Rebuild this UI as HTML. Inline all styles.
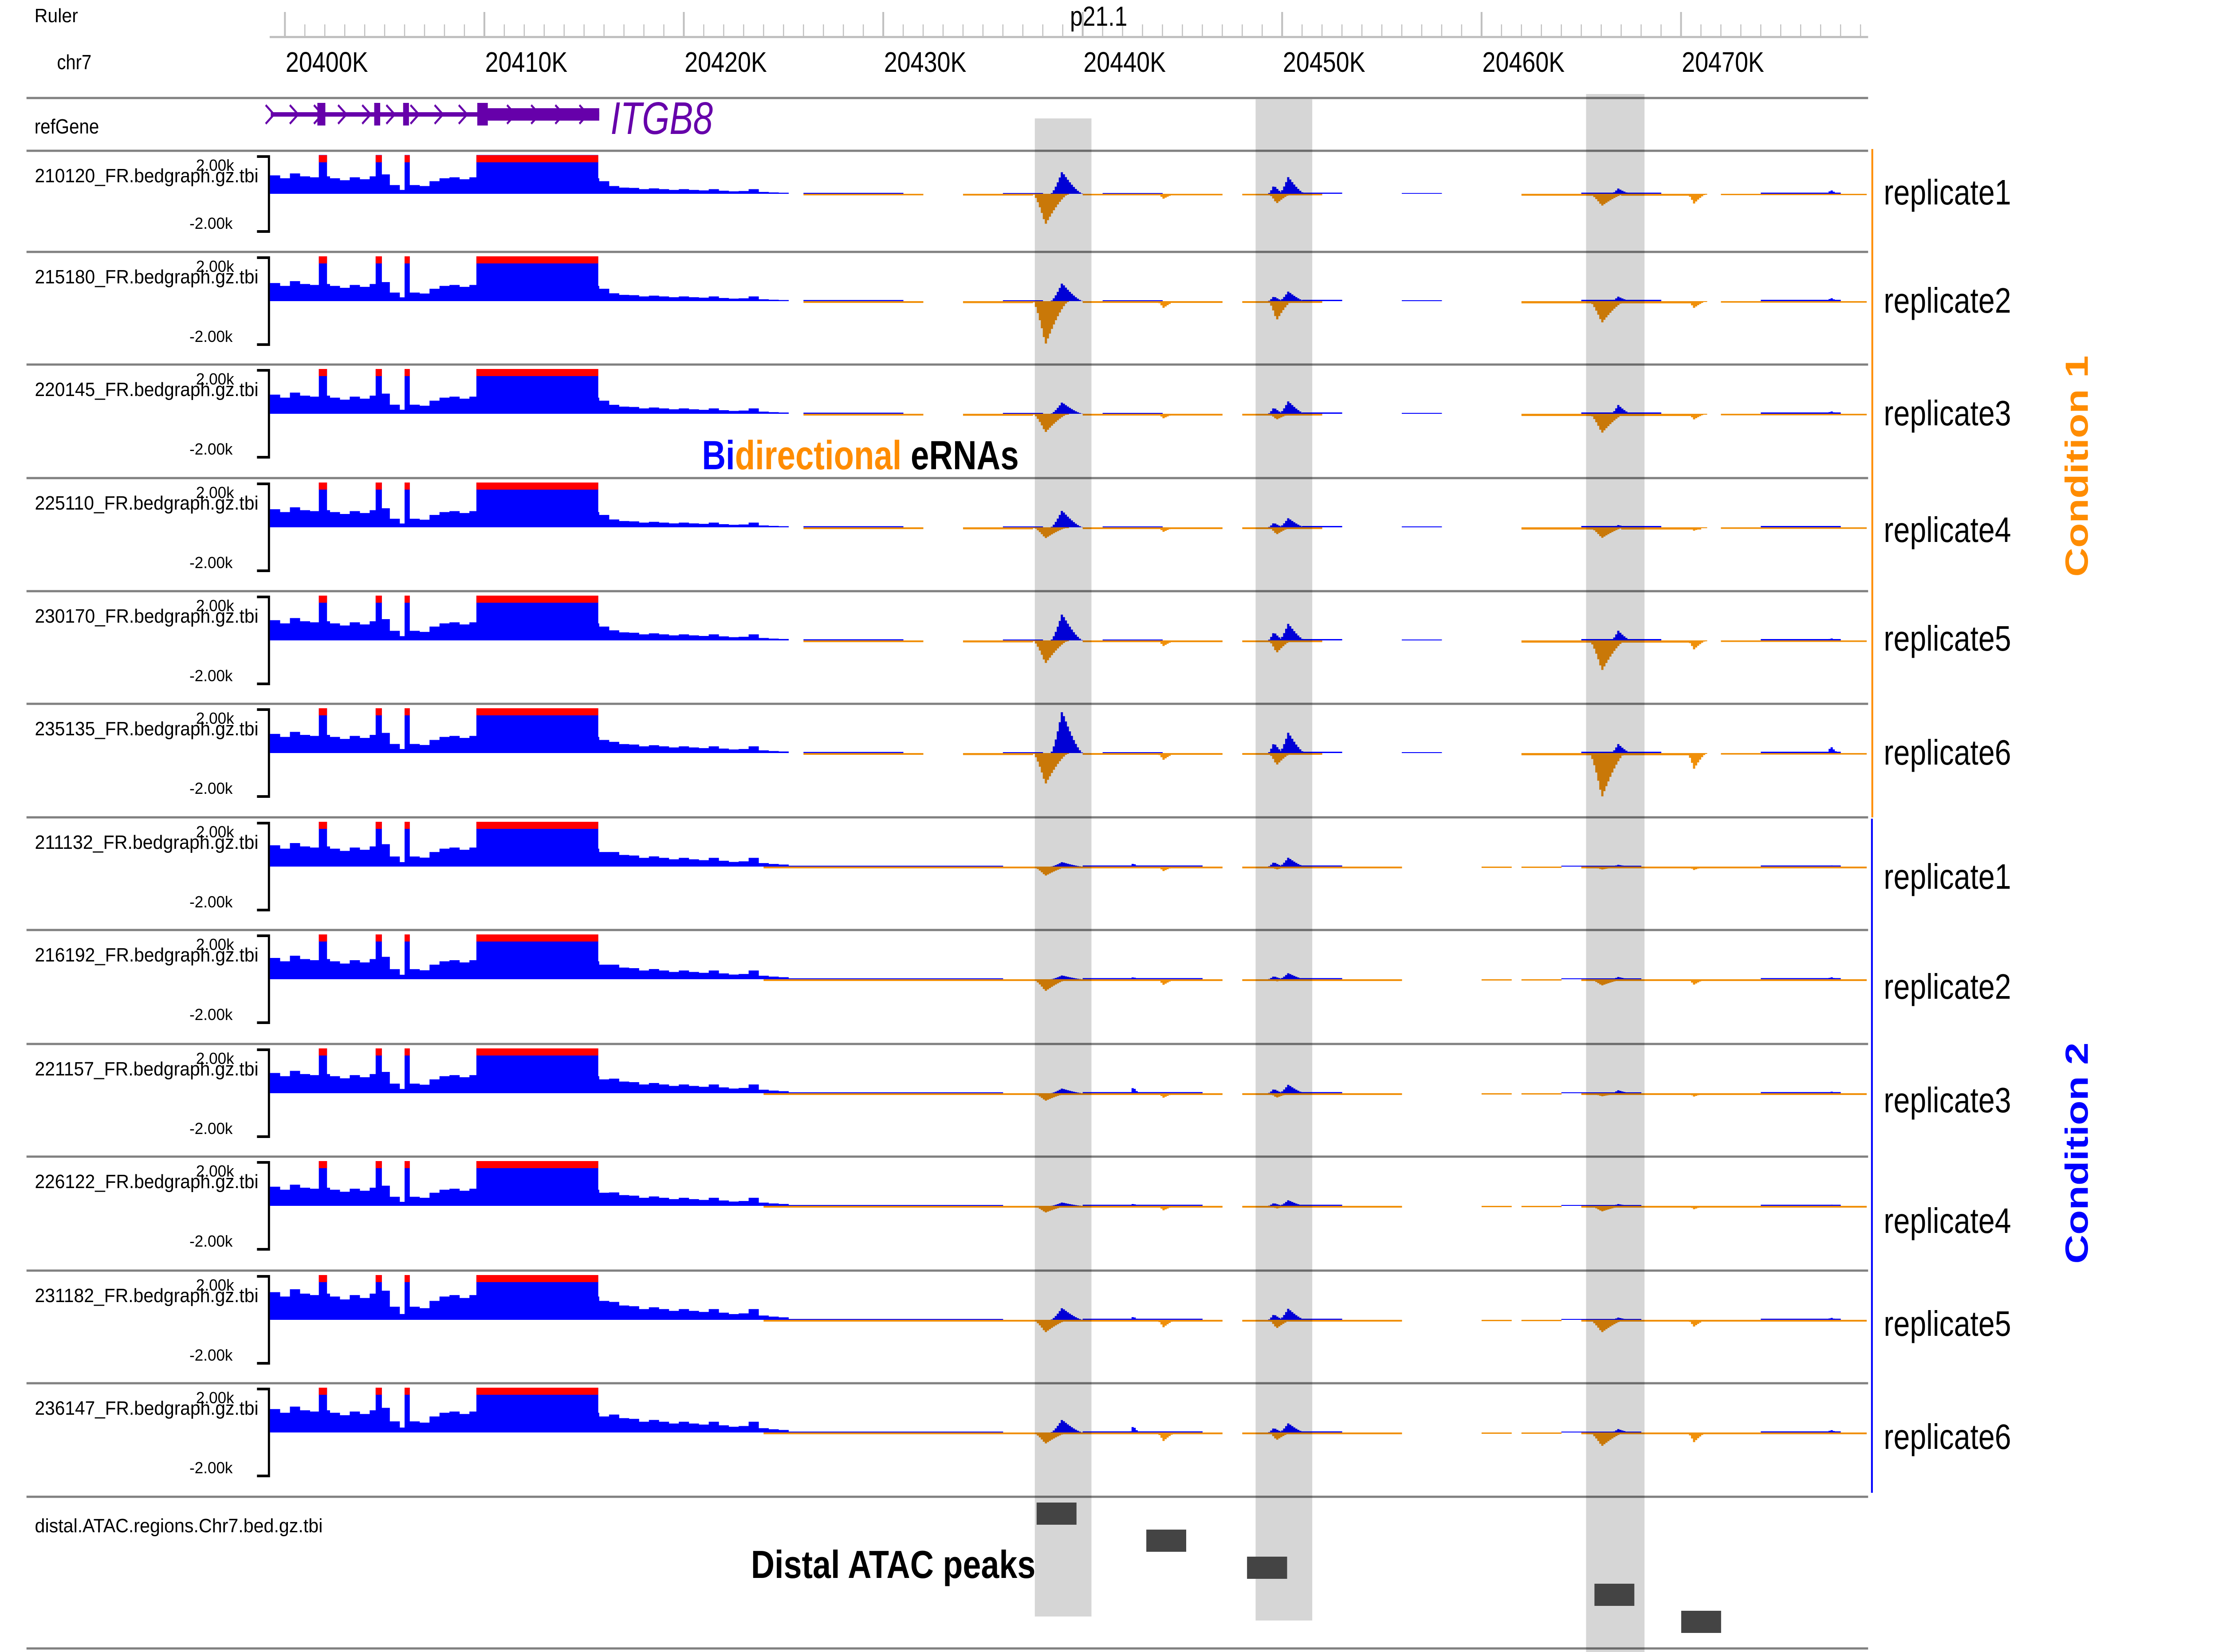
<!DOCTYPE html>
<html><head><meta charset="utf-8"><title>ITGB8 eRNA tracks</title>
<style>
html,body{margin:0;padding:0;background:#fff;width:100%;height:100%;overflow:hidden;}
svg{display:block;width:100vw;height:100vh;font-family:"Liberation Sans",Arial,sans-serif;}
</style></head>
<body>
<svg id="chart" xmlns="http://www.w3.org/2000/svg" viewBox="0 0 6111 3725" preserveAspectRatio="none">
<rect x="0" y="0" width="6111" height="3725" fill="#fff"/>
</svg>
<script>
// ---------------- DATA ----------------
const trackNames = ["210120_FR.bedgraph.gz.tbi","215180_FR.bedgraph.gz.tbi","220145_FR.bedgraph.gz.tbi","225110_FR.bedgraph.gz.tbi","230170_FR.bedgraph.gz.tbi","235135_FR.bedgraph.gz.tbi","211132_FR.bedgraph.gz.tbi","216192_FR.bedgraph.gz.tbi","221157_FR.bedgraph.gz.tbi","226122_FR.bedgraph.gz.tbi","231182_FR.bedgraph.gz.tbi","236147_FR.bedgraph.gz.tbi"];
const replicateLabels = ["replicate1","replicate2","replicate3","replicate4","replicate5","replicate6","replicate1","replicate2","replicate3","replicate4","replicate5","replicate6"];
const rulerMajorK = [20400,20410,20420,20430,20440,20450,20460,20470];
// gene-body coverage, 0.5K bins from 20399.25K
const geneProfile = [950,800,1050,900,850,900,800,700,850,750,900,1000,450,200,450,400,650,800,850,750,850,800,800,800,800,800,800,800,800,800,800,800,800,650,500,400,380,300,350,300,250,300,250,220,300,200,160,180,300,120,90,70];
const geneScale = [1.0,0.85,0.9,0.85,0.95,0.9,1.0,1.0,0.95,0.9,1.3,1.1];
const tailScale = [0.8,0.7,0.8,0.7,0.9,1.0,1.3,1.3,1.3,1.2,1.6,1.6];
const exonStartK = [20401.7,20404.55,20406.0,20409.6];
const exonEndK = [20402.1,20404.85,20406.25,20415.7];
// background low-level coverage segments [startK, endK, value]
const bgPosC1 = [[20426,20431,50],[20436,20438,40],[20441,20444,40],[20451,20453,60],[20456,20458,40],[20465,20469,60],[20474,20478,60]];
const bgNegC1 = [[20426,20432,80],[20434,20437.5,90],[20440,20447,80],[20448,20452,80],[20462,20466,100],[20467,20471,100],[20472,20479.3,70]];
const bgPosC2 = [[20424,20436,40],[20440,20446,50],[20450,20453,50],[20464,20468,40],[20474,20478,50]];
const bgNegC2 = [[20424,20447,80],[20448,20456,80],[20460,20461.5,60],[20462,20464,60],[20465,20479.3,80]];
// eRNA peak heights per track
const peakP1 = [1140,800,510,750,1180,1870,200,170,210,150,530,570];   // + strand, 20439.2K
const peakN1 = [1580,1940,830,490,1030,1390,410,530,340,300,560,500]; // - strand, 20438.4K
const peakP2 = [870,430,560,410,750,920,400,270,380,250,500,410];     // + strand, 20450.5K
const peakN2 = [500,860,260,320,560,540,130,100,200,120,380,340];     // - strand, 20449.9K
const peakN3 = [620,970,860,480,1350,1980,130,280,140,250,560,610];   // - strand, 20466.3K
const peakP3 = [270,200,390,100,430,400,80,100,130,80,100,150];       // + strand, 20467.0K
const peakN4 = [500,300,250,150,400,700,150,240,150,150,300,430];     // - strand, 20470.8K
const peakN5 = [250,300,200,200,250,300,200,250,200,200,330,380];     // - strand, 20444.2K
const peakP6 = [200,150,120,60,100,300,60,100,80,60,100,120];         // + strand, 20477.6K
const peakP7 = [0,0,0,0,0,0,150,100,280,100,150,300];                 // + strand, 20442.6K
const peakCenterK = {P1:20439.2,N1:20438.4,P2:20450.5,P2b:20449.7,N2:20449.9,N3:20466.3,P3:20467.0,N4:20470.8,N5:20444.2,P6:20477.6,P7:20442.6};
const peakWidthK = {P1:1.6,N1:1.8,P2:1.3,P2b:0.8,N2:1.2,N3:1.8,P3:1.0,N4:1.0,N5:1.0,P6:0.6,P7:0.5};
// highlighted regions (K)
const bandStartK = [20437.6,20448.67,20465.24];
const bandEndK = [20440.44,20451.51,20468.17];
// distal ATAC peaks
const atacStartK = [20437.69,20443.19,20448.24,20465.66,20470.01];
const atacEndK = [20439.69,20445.19,20450.25,20467.66,20472.01];
const atacRow = [0,1,2,3,4];

// ---------------- LAYOUT ----------------
const svg = document.getElementById('chart');
const NS = 'http://www.w3.org/2000/svg';
const BLUE = '#0000ff', RED = '#ff0000', ORANGE = '#f0900a', PURPLE = '#6600aa';
const kToX = k => 785 + (k - 20400) * 54.95;
const X0 = 743, X1 = 5147;
const trackTops = [340,568,822,1078,1333,1587,1843,2097,2354,2608,2865,3119];
const sepYs = [221,340,568,822,1078,1333,1587,1843,2097,2354,2608,2865,3119,3375,3717];
const repCenters = [439,683,937,1200,1445,1702,1982,2230,2486,2758,2990,3245];
function geom(t){
  if (t === 0) return {top:350, bot:525, zero:437, half:87.5};
  const T = trackTops[t];
  return {top:T+10, bot:T+212, zero:T+111, half:101};
}
function mk(tag, attrs, parent){
  const el = document.createElementNS(NS, tag);
  for (const k in attrs) el.setAttribute(k, attrs[k]);
  (parent || svg).appendChild(el);
  return el;
}
function txt(str, attrs, parent){
  const el = mk('text', attrs, parent);
  el.textContent = str;
  return el;
}

sepYs.forEach((y, i) => {
  const r = mk('rect', {x:73, y:y-2.5, width:X1-73, height:5, fill:'#808080'});
  
  
});

// ruler
const rulerG = mk('g', {});


const rb = mk('rect', {x:X0, y:81, width:X1-X0, height:5, fill:'#c0c0c0'}, rulerG);


for (let k = 20400; k <= 20479; k++) {
  const x = kToX(k);
  const major = (k % 10 === 0);
  const tk = mk('rect', {x:x-(major?2.5:1.5), y:major?27:55, width:major?5:3, height:major?56:28, fill:'#c0c0c0'}, rulerG);
  
  
}
rulerMajorK.forEach(k => {
  const t = txt(k + 'K', {x:kToX(k)+2, y:162, 'font-size':64, textLength:227, lengthAdjust:'spacingAndGlyphs', fill:'#000'}, rulerG);
  
  
});
const rl = txt('Ruler', {x:95, y:50, 'font-size':44, textLength:120, lengthAdjust:'spacingAndGlyphs'});


const cl = txt('chr7', {x:157, y:156, 'font-size':46, textLength:95, lengthAdjust:'spacingAndGlyphs'});


const band = txt('p21.1', {x:2948, y:58, 'font-size':62, textLength:158, lengthAdjust:'spacingAndGlyphs'});



// refGene
const rg = txt('refGene', {x:95, y:301, 'font-size':46, textLength:178, lengthAdjust:'spacingAndGlyphs'});


const geneG = mk('g', {});


const gl = mk('rect', {x:746, y:253, width:1651-746, height:10, fill:PURPLE}, geneG);


for (let x = 755; x < 1650; x += 66.5) {
  const c = mk('polyline', {points:`${x-23},${237} ${x},${258} ${x-23},${279}`, fill:'none', stroke:PURPLE, 'stroke-width':5}, geneG);
  
  
}
exonStartK.forEach((s, i) => {
  const x = kToX(s) - 4, w = Math.max(kToX(exonEndK[i]) - kToX(s), 16);
  if (i < 3) {
    const e = mk('rect', {x:x, y:232, width:w, height:51, fill:PURPLE}, geneG);
    
    
  }
});
const ex4 = mk('rect', {x:1315, y:232, width:29, height:51, fill:PURPLE}, geneG);


const utr = mk('rect', {x:1344, y:244, width:307, height:28, fill:PURPLE}, geneG);


const gn = txt('ITGB8', {x:1682, y:302, 'font-size':103, 'font-style':'italic', textLength:282, lengthAdjust:'spacingAndGlyphs', fill:PURPLE}, geneG);



function barUp(g, k0, k1, v, gm, name){
  const x = Math.max(kToX(k0), X0), x2 = Math.min(kToX(k1), X1);
  if (x2 <= x || v <= 0) return;
  const h = Math.min(v, 2000) / 2000 * gm.half;
  const r = mk('rect', {x:x, y:gm.zero-h, width:x2-x+0.6, height:h, fill:BLUE}, g);
  
  
  if (v >= 2000) {
    const c = mk('rect', {x:x, y:gm.top, width:x2-x+0.6, height:16, fill:RED}, g);
    
    
  }
}
function barDown(g, k0, k1, v, gm, name){
  const x = Math.max(kToX(k0), X0), x2 = Math.min(kToX(k1), X1);
  if (x2 <= x || v <= 0) return;
  const h = Math.max(Math.min(v, 2000) / 2000 * gm.half, 2);
  const r = mk('rect', {x:x, y:gm.zero, width:x2-x+0.6, height:h, fill:ORANGE}, g);
  
  
}
function peak(g, key, h, gm, up){
  if (!h) return;
  const c = peakCenterK[key], w = peakWidthK[key];
  const s = c - w/2, step = 0.1;
  for (let k = s; k < s + w - 1e-6; k += step) {
    const u = (k + step/2 - s) / w;
    const shape = u < 0.35 ? u / 0.35 : (1 - u) / 0.65;
    const v = h * Math.pow(Math.max(shape, 0.05), 1.4);
    if (up) barUp(g, k, k + step, v, gm, 'plus-strand-peak-bar');
    else barDown(g, k, k + step, v, gm, 'minus-strand-peak-bar');
  }
}

trackNames.forEach((name, t) => {
  const gm = geom(t);
  const T = trackTops[t];
  const g = mk('g', {});
  
  
  const c2 = t >= 6;
  const tl = txt(name, {x:96, y:T+71, 'font-size':44, textLength:616, lengthAdjust:'spacingAndGlyphs'}, g);
  
  
  const mx = txt('2.00k', {x:540, y:gm.top+35, 'font-size':36, textLength:105, lengthAdjust:'spacingAndGlyphs'}, g);
  
  
  const mn = txt('-2.00k', {x:522, y:gm.bot-9, 'font-size':36, textLength:119, lengthAdjust:'spacingAndGlyphs'}, g);
  
  
  const br = mk('path', {d:`M708 ${gm.top+3} H741 V${gm.bot-3} H708`, fill:'none', stroke:'#000', 'stroke-width':6}, g);
  
  
  geneProfile.forEach((v, i) => {
    const k0 = 20399.25 + 0.5*i;
    const sc = k0 > 20416 ? tailScale[t] : geneScale[t];
    barUp(g, k0, k0 + 0.5, v * sc, gm, 'gene-body-coverage-bar');
  });
  exonStartK.forEach((s, i) => barUp(g, s, exonEndK[i], 2600, gm, 'exon-coverage-bar'));
  (c2 ? bgPosC2 : bgPosC1).forEach(d => barUp(g, d[0], d[1], d[2], gm, 'plus-strand-background'));
  (c2 ? bgNegC2 : bgNegC1).forEach(d => barDown(g, d[0], d[1], d[2], gm, 'minus-strand-background'));
  peak(g, 'P1', peakP1[t], gm, true);
  peak(g, 'N1', peakN1[t], gm, false);
  peak(g, 'P2b', peakP2[t]*0.5, gm, true);
  peak(g, 'P2', peakP2[t], gm, true);
  peak(g, 'N2', peakN2[t], gm, false);
  peak(g, 'N3', peakN3[t], gm, false);
  peak(g, 'P3', peakP3[t], gm, true);
  peak(g, 'N4', peakN4[t], gm, false);
  peak(g, 'N5', peakN5[t], gm, false);
  peak(g, 'P6', peakP6[t], gm, true);
  peak(g, 'P7', peakP7[t], gm, true);
  const rl = txt(replicateLabels[t], {x:5190, y:repCenters[t]+22, 'font-size':80, textLength:351, lengthAdjust:'spacingAndGlyphs'});
  
  
});

const bandTop = [267,224,212], bandBot = [3645,3654,3725];
bandStartK.forEach((s, i) => {
  const b = mk('rect', {x:kToX(s), y:bandTop[i], width:kToX(bandEndK[i]) - kToX(s), height:bandBot[i]-bandTop[i], fill:'#000', 'fill-opacity':0.16});
  
  
});

const al = txt('distal.ATAC.regions.Chr7.bed.gz.tbi', {x:96, y:3455, 'font-size':44, textLength:793, lengthAdjust:'spacingAndGlyphs'});


atacStartK.forEach((s, i) => {
  const r = mk('rect', {x:kToX(s), y:3388 + atacRow[i]*61, width:kToX(atacEndK[i]) - kToX(s), height:50, fill:'#444'});
  
  
});

const cond1Line = mk('rect', {x:5156, y:336, width:5, height:1843-336, fill:'#ff8c00'});


const cond2Line = mk('rect', {x:5155, y:1846, width:5, height:3366-1846, fill:'#0000ff'});


const c1 = txt('Condition 1', {x:0, y:0, 'font-size':88, 'font-weight':'bold', 'text-anchor':'middle', textLength:499, lengthAdjust:'spacingAndGlyphs', fill:'#ff8c00', transform:'translate(5752,1051) rotate(-90)'});


const c2l = txt('Condition 2', {x:0, y:0, 'font-size':88, 'font-weight':'bold', 'text-anchor':'middle', textLength:499, lengthAdjust:'spacingAndGlyphs', fill:'#0000ff', transform:'translate(5752,2600) rotate(-90)'});



const bd = mk('text', {x:1934, y:1058, 'font-size':92, 'font-weight':'bold', textLength:873, lengthAdjust:'spacingAndGlyphs'});


[['Bi','#0000ff'],['directional','#ff8c00'],[' eRNAs','#000']].forEach(p => {
  const s = mk('tspan', {fill:p[1]}, bd);
  s.textContent = p[0];
  
  
});
const dp = txt('Distal ATAC peaks', {x:2069, y:3558, 'font-size':88, 'font-weight':'bold', textLength:784, lengthAdjust:'spacingAndGlyphs'});


</script>
</body></html>
